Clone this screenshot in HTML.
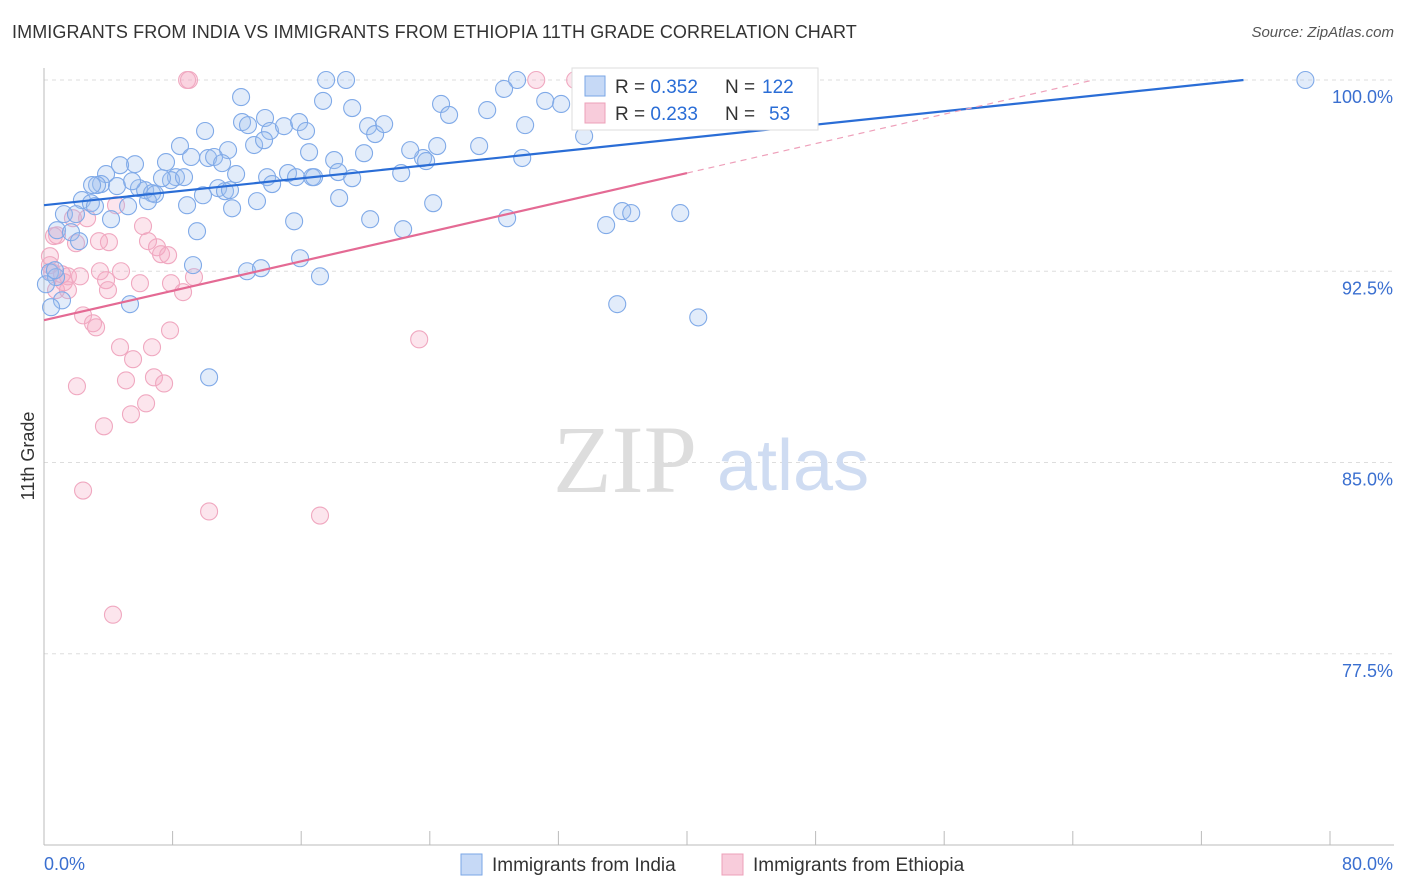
<!DOCTYPE html>
<html><head><meta charset="utf-8">
<style>
body{margin:0;background:#fff;font-family:"Liberation Sans",sans-serif;}
#wrap{position:relative;width:1406px;height:892px;overflow:hidden;}
.title{position:absolute;left:12px;top:22px;font-size:18px;color:#333;letter-spacing:0.1px}
.source{position:absolute;right:12px;top:24px;font-size:15px;color:#555;font-style:italic}
</style></head>
<body>
<div id="wrap">
<div class="title">IMMIGRANTS FROM INDIA VS IMMIGRANTS FROM ETHIOPIA 11TH GRADE CORRELATION CHART</div>
<div class="source">Source: ZipAtlas.com</div>
<svg id="svg" width="1406" height="892" style="position:absolute;left:0;top:0"></svg>
</div>
<script>
const yTicks=[77.5,85.0,92.5,100.0];
const xTickVals=[0,8,16,24,32,40,48,56,64,72,80];
const indiaX=[17.55,18.79,29.43,78.47,12.26,17.36,19.17,24.70,27.57,31.18,32.17,28.62,13.75,12.32,12.69,14.06,14.93,15.87,16.30,10.02,8.46,11.45,13.07,13.69,16.49,20.16,20.60,21.16,25.20,24.46,23.58,27.07,29.93,29.75,33.60,19.91,18.05,10.21,10.58,9.15,11.08,7.59,5.66,4.73,3.86,11.95,13.88,15.18,16.68,16.80,18.30,19.17,22.22,22.78,23.77,3.55,3.30,4.54,5.91,6.29,6.72,6.91,8.21,7.90,10.83,11.26,9.89,8.90,11.70,13.25,14.19,15.68,18.36,2.36,2.92,3.17,5.23,6.47,1.24,1.99,4.17,9.52,15.56,20.29,22.34,24.21,28.81,34.97,35.97,36.53,39.58,0.81,1.68,2.18,0.37,0.75,0.12,1.12,0.44,5.35,9.27,12.63,13.50,15.93,17.17,35.66,40.70,10.27,11.57,2.99,5.48,7.34,8.71,0.68];
const indiaY=[100,100,100,100,99.33,99.18,98.90,99.06,98.82,99.18,99.06,99.65,98.51,98.35,98.23,98.00,98.19,98.35,98.00,98.00,97.41,97.25,97.45,97.64,97.17,98.19,97.88,98.27,98.63,97.41,96.94,97.41,98.23,96.94,97.80,97.13,96.86,96.94,96.98,96.98,96.74,96.78,96.70,96.66,96.31,96.31,96.19,96.35,96.19,96.19,96.39,96.15,96.35,97.25,96.82,95.92,95.88,95.84,95.76,95.68,95.56,95.52,96.19,96.07,95.76,95.64,95.48,95.09,94.97,95.25,95.92,96.19,95.37,95.29,95.17,95.05,95.05,95.25,94.74,94.74,94.54,94.07,94.46,94.54,94.15,95.17,94.58,94.31,94.86,94.78,94.78,94.11,94.03,93.68,92.46,92.27,91.99,91.36,91.09,91.21,92.74,92.50,92.62,93.01,92.30,91.21,90.69,88.34,95.68,95.88,96.03,96.15,96.19,92.54];
const ethX=[8.90,9.02,30.62,33.04,0.81,0.62,1.99,4.04,3.42,1.80,2.68,4.48,6.16,6.47,7.03,7.28,7.72,0.37,0.50,1.12,1.49,2.24,3.48,3.86,4.79,5.97,3.98,7.90,8.65,9.33,1.49,2.43,3.05,3.24,7.84,4.73,6.72,23.34,5.54,2.05,5.10,6.84,7.47,6.35,5.41,3.73,2.43,10.27,17.17,4.29,0.75,1.24,0.37];
const ethY=[100,100,100,100,93.91,93.88,93.60,93.64,93.68,94.58,94.58,95.09,94.27,93.68,93.44,93.17,93.13,93.09,92.46,92.38,92.30,92.30,92.50,92.15,92.50,92.03,91.76,92.03,91.68,92.27,91.76,90.77,90.46,90.30,90.18,89.52,89.52,89.83,89.05,87.99,88.22,88.34,88.10,87.32,86.89,86.42,83.90,83.08,82.92,79.03,91.76,92.07,92.74];
const indiaTrend=[95.09,0.0658];
const ethTrend=[90.58,0.1443];

const NS="http://www.w3.org/2000/svg";
const svg=document.getElementById('svg');
const X0=44,X1=1330,YB=845,YT=80;
const sx=v=>X0+(v/80)*(X1-X0);
const sy=v=>YB-(v-70)/30*(YB-YT);
function mk(t,a){const e=document.createElementNS(NS,t);for(const k in a)e.setAttribute(k,a[k]);svg.appendChild(e);return e;}

yTicks.forEach(t=>{
  const g=mk('line',{x1:X0,x2:1394,y1:sy(t),y2:sy(t),stroke:'#ddd','stroke-dasharray':'4,4'});
  
  
  const l=mk('text',{x:1393,y:sy(t)+23,'text-anchor':'end','font-size':18,fill:'#3a6fd0'});
  l.textContent=t.toFixed(1)+'%';
  
  
});
const ax=mk('line',{x1:X0,x2:1394,y1:YB,y2:YB,stroke:'#bbb'});


const ay=mk('line',{x1:X0,x2:X0,y1:68,y2:YB,stroke:'#bbb'});


xTickVals.forEach(v=>{
  const t=mk('line',{x1:sx(v),x2:sx(v),y1:YB,y2:YB-14,stroke:'#bbb'});
  
  
});
const xl0=mk('text',{x:44,y:870,'font-size':18,fill:'#3a6fd0'});xl0.textContent='0.0%';


const xl1=mk('text',{x:1393,y:870,'font-size':18,fill:'#3a6fd0','text-anchor':'end'});xl1.textContent='80.0%';


const yt=mk('text',{x:34,y:456,'font-size':18,fill:'#333','text-anchor':'middle',transform:'rotate(-90 34 456)'});yt.textContent='11th Grade';


const w1=mk('text',{x:553,y:492,'font-size':96,fill:'#ddd','font-family':'Liberation Serif, serif'});w1.textContent='ZIP';


const w2=mk('text',{x:717,y:490,'font-size':72,fill:'#cfdcf2'});w2.textContent='atlas';



for(let i=0;i<ethX.length;i++){
  const c=mk('circle',{cx:sx(ethX[i]),cy:sy(ethY[i]),r:8.5,fill:'rgba(244,170,195,0.3)',stroke:'#f0a8c0','stroke-width':1.1});
  
  
}
for(let i=0;i<indiaX.length;i++){
  const c=mk('circle',{cx:sx(indiaX[i]),cy:sy(indiaY[i]),r:8.5,fill:'rgba(160,192,240,0.3)',stroke:'#80aae8','stroke-width':1.1});
  
  
}
const bEnd=(100-indiaTrend[0])/indiaTrend[1];
const tb=mk('line',{x1:sx(0),y1:sy(indiaTrend[0]),x2:sx(bEnd),y2:sy(100),stroke:'#2a6dd6','stroke-width':2.2});


const pEnd=(100-ethTrend[0])/ethTrend[1];
const tp=mk('line',{x1:sx(0),y1:sy(ethTrend[0]),x2:sx(40),y2:sy(ethTrend[0]+ethTrend[1]*40),stroke:'#e46a94','stroke-width':2.2});


const tpd=mk('line',{x1:sx(40),y1:sy(ethTrend[0]+ethTrend[1]*40),x2:sx(pEnd),y2:sy(100),stroke:'#eea0ba','stroke-width':1.2,'stroke-dasharray':'6,5'});



const lb=mk('rect',{x:572,y:68,width:246,height:62,fill:'#fff',stroke:'#ddd'});


[[0,'0.352','122',762,'rgba(160,192,240,0.6)','#7aa6e6'],[1,'0.233','53',769,'rgba(244,170,195,0.6)','#eda0b8']].forEach(r=>{
  const y=86+r[0]*27;
  const s=mk('rect',{x:585,y:y-10,width:20,height:20,fill:r[4],stroke:r[5]});
  
  
  const t=mk('text',{x:615,y:y+7,'font-size':19,fill:'#333'});
  t.innerHTML='R = <tspan fill="#2a6dd6">'+r[1]+'</tspan>';
  
  
  const n=mk('text',{x:725,y:y+7,'font-size':19,fill:'#333'});
  n.textContent='N =';
  
  
  const nv=mk('text',{x:r[3],y:y+7,'font-size':19,fill:'#2a6dd6'});
  nv.textContent=r[2];
  
  
});
[[461,'Immigrants from India','rgba(160,192,240,0.6)','#7aa6e6'],[722,'Immigrants from Ethiopia','rgba(244,170,195,0.6)','#eda0b8']].forEach(r=>{
  const s=mk('rect',{x:r[0],y:854,width:21,height:21,fill:r[2],stroke:r[3]});
  
  
  const t=mk('text',{x:r[0]+31,y:871,'font-size':19,fill:'#333'});
  t.textContent=r[1];
  
  
});
</script>
</body></html>
